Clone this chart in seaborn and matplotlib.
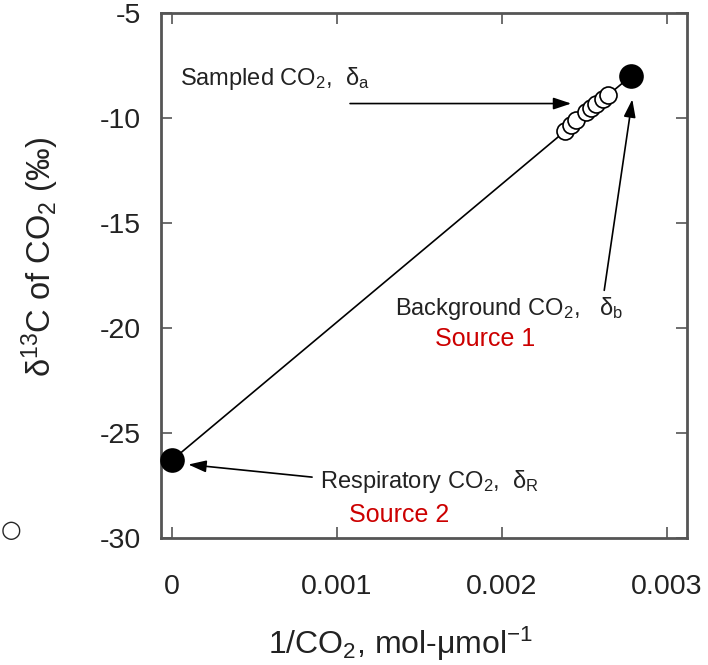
import matplotlib
matplotlib.use('Agg')
import matplotlib.pyplot as plt
import seaborn as sns

# Keeling plot data
sample_x = [0.00238, 0.00242, 0.00245, 0.00251, 0.00254, 0.00257, 0.00261, 0.00264]
sample_y = [-10.6, -10.3, -10.1, -9.7, -9.5, -9.3, -9.1, -8.9]
source_x = [0.0, 0.00278]
source_y = [-26.3, -8.0]

x_ticks = [0, 0.001, 0.002, 0.003]
x_tick_labels = ['0', '0.001', '0.002', '0.003']
y_ticks = [-30, -25, -20, -15, -10, -5]

sns.set_theme(style='ticks')
plt.rcParams['font.family'] = ['Liberation Sans', 'DejaVu Sans']
plt.rcParams['mathtext.fontset'] = 'custom'
plt.rcParams['mathtext.rm'] = 'Liberation Sans'
plt.rcParams['mathtext.it'] = 'Liberation Sans:italic'
plt.rcParams['mathtext.default'] = 'regular'
plt.rcParams['axes.unicode_minus'] = False

fig = plt.figure(figsize=(7.08, 6.65), dpi=100)
ax = fig.add_axes([0.227, 0.191, 0.743, 0.789])

# mixing line between the two end members
sns.lineplot(x=source_x, y=source_y, color='black', linewidth=1.2, ax=ax)
sns.scatterplot(x=sample_x, y=sample_y, s=150, facecolor='white', edgecolor='black',
                linewidth=1.2, zorder=3, ax=ax)
sns.scatterplot(x=source_x, y=source_y, s=270, color='black', edgecolor='black',
                zorder=4, ax=ax, clip_on=False)

ax.set_xlim(-0.000067, 0.00312)
ax.set_ylim(-30, -5)
ax.set_xticks(x_ticks)
ax.set_xticklabels(x_tick_labels)
ax.set_yticks(y_ticks)
ax.tick_params(direction='in', length=8, width=1.2, color='#555555',
               top=True, right=True, labelsize=20.5, labelcolor='#222222')
ax.tick_params(axis='x', pad=26)
ax.tick_params(axis='y', pad=14)
for sp in ax.spines.values():
    sp.set_color('#555555')
    sp.set_linewidth(2)

ax.set_xlabel(r'1/CO$_2$, mol-$\mu$mol$^{-1}$', fontsize=23, color='#222222')
ax.set_ylabel(r'$\delta^{13}$C of CO$_2$ (‰)', fontsize=23.5, color='#222222')
ax.xaxis.set_label_coords(0.455, -0.165)
ax.yaxis.set_label_coords(-0.19, 0.535)

arrow = dict(arrowstyle='-|>,head_length=0.9,head_width=0.3', color='black',
             linewidth=1.2, shrinkA=0, shrinkB=0)
ax.text(0.00005, -8.1, r'Sampled CO$_2$,  $\delta_a$', fontsize=17, va='center', ha='left',
        color='#222222')
ax.annotate('', xy=(0.00242, -9.3), xytext=(0.00108, -9.3), arrowprops=arrow)

ax.text(0.00135, -19.05, r'Background CO$_2$,   $\delta_b$', fontsize=17, va='center',
        ha='left', color='#222222')
ax.text(0.0019, -20.5, 'Source 1', fontsize=18, va='center', ha='center', color='#cc0000')
ax.annotate('', xy=(0.00279, -9.1), xytext=(0.00262, -18.2), arrowprops=arrow)

ax.text(0.0009, -27.3, r'Respiratory CO$_2$,  $\delta_R$', fontsize=17, va='center',
        ha='left', color='#222222')
ax.text(0.00138, -28.9, 'Source 2', fontsize=18, va='center', ha='center', color='#cc0000')
ax.annotate('', xy=(0.0001, -26.5), xytext=(0.00085, -27.1), arrowprops=arrow)

# stray open circle left of the frame in the original
fig.text(0.015, 0.203, '○', fontsize=17, ha='center', va='center', family='DejaVu Sans')

fig.savefig('out.png', dpi=100)
